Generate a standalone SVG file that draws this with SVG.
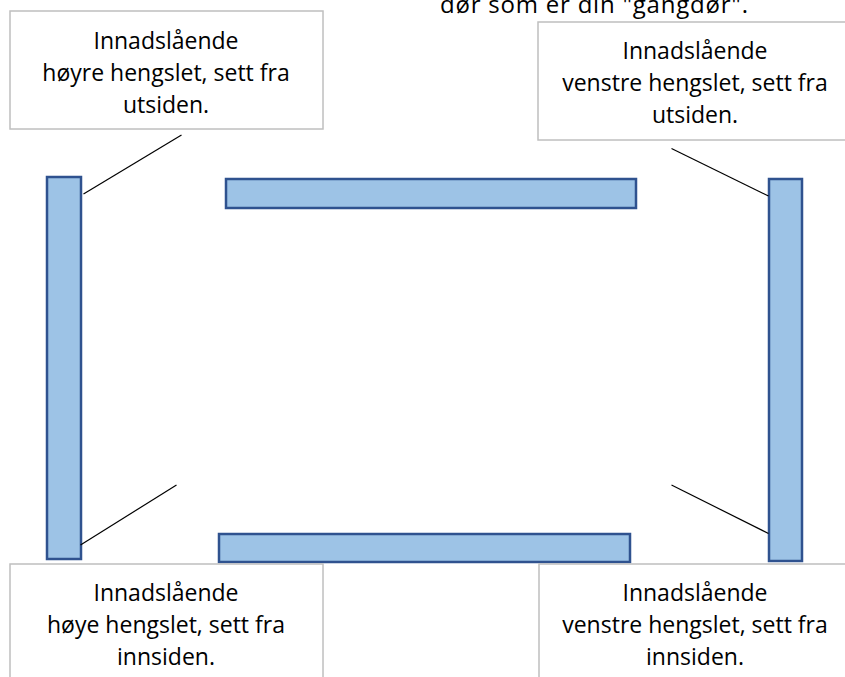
<svg xmlns="http://www.w3.org/2000/svg" width="845" height="677" viewBox="0 0 845 677">
  <style>
    .box { fill: #ffffff; stroke: #bfbfbf; stroke-width: 1.5; }
    .bar { fill: #9dc3e6; stroke: #2f528f; stroke-width: 2.5; }
    .lbl { font-family: "Open Sans", "Noto Sans", "Liberation Sans", sans-serif; font-size: 23px; fill: #000000; text-anchor: middle; }
    .title { font-family: "Open Sans", "Noto Sans", "Liberation Sans", sans-serif; font-size: 24px; fill: #000000; }
    .conn { stroke: #000000; stroke-width: 1.2; fill: none; }
  </style>
  <rect x="0" y="0" width="845" height="677" fill="#ffffff"/>

  <text class="title" x="440" y="13" textLength="308" lengthAdjust="spacing">dør som er din "gangdør".</text>

  <g id="bar-left"><rect class="bar" x="47" y="177" width="34" height="382"/></g>
  <g id="bar-right"><rect class="bar" x="769" y="179" width="33" height="382"/></g>
  <g id="bar-top"><rect class="bar" x="226" y="179" width="410" height="29"/></g>
  <g id="bar-bottom"><rect class="bar" x="219" y="534" width="411" height="28"/></g>

  <g id="connectors">
    <line class="conn" x1="181.5" y1="135" x2="83.5" y2="194"/>
    <line class="conn" x1="671.5" y1="148.5" x2="768.5" y2="196"/>
    <line class="conn" x1="176.5" y1="485" x2="80.5" y2="545"/>
    <line class="conn" x1="671.5" y1="485" x2="768.5" y2="533.5"/>
  </g>

  <g id="label-top-left">
    <rect class="box" x="10" y="11" width="313" height="118"/>
    <text class="lbl" x="166" y="48.5">Innadslående</text>
    <text class="lbl" x="166" y="80.5">høyre hengslet, sett fra</text>
    <text class="lbl" x="166" y="113">utsiden.</text>
  </g>

  <g id="label-top-right">
    <rect class="box" x="538" y="22" width="320" height="118"/>
    <text class="lbl" x="695" y="58.5">Innadslående</text>
    <text class="lbl" x="695" y="90.5">venstre hengslet, sett fra</text>
    <text class="lbl" x="695" y="123">utsiden.</text>
  </g>

  <g id="label-bottom-left">
    <rect class="box" x="10" y="564" width="313" height="130"/>
    <text class="lbl" x="166" y="600.5">Innadslående</text>
    <text class="lbl" x="166" y="632.5">høye hengslet, sett fra</text>
    <text class="lbl" x="166" y="665">innsiden.</text>
  </g>

  <g id="label-bottom-right">
    <rect class="box" x="539" y="564" width="320" height="130"/>
    <text class="lbl" x="695" y="600.5">Innadslående</text>
    <text class="lbl" x="695" y="632.5">venstre hengslet, sett fra</text>
    <text class="lbl" x="695" y="665">innsiden.</text>
  </g>
</svg>
